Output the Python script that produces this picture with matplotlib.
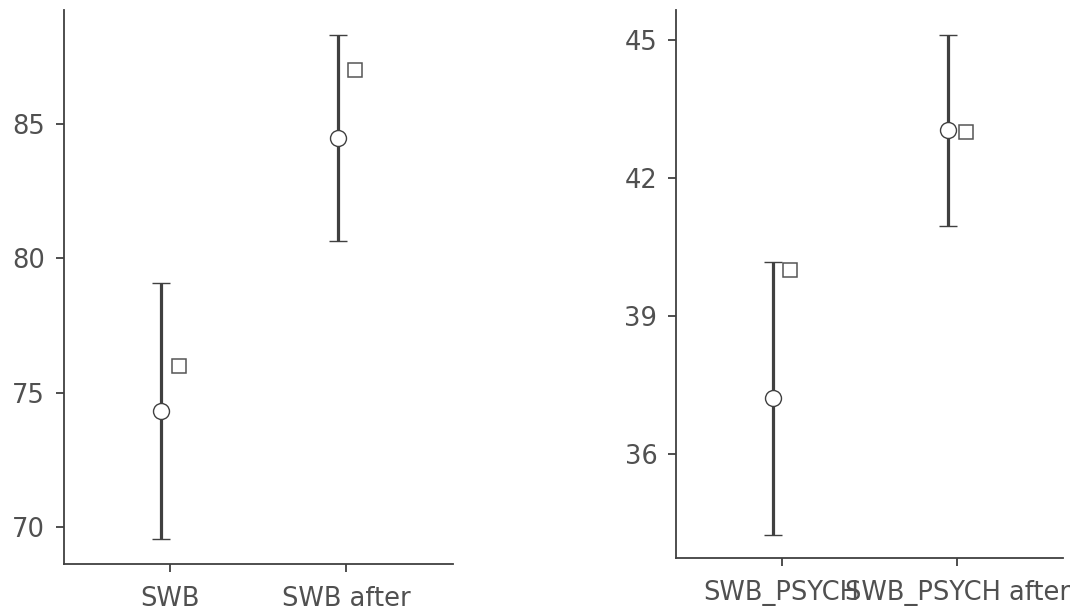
import matplotlib.pyplot as plt
import numpy as np

# SWB scores: means with interval bounds, plus medians
swb_labels = ['SWB', 'SWB after']
swb_mean = [74.3, 84.48]
swb_low = [69.55, 80.63]
swb_high = [79.07, 88.32]
swb_median = [76, 87]

psych_labels = ['SWB_PSYCH', 'SWB_PSYCH after']
psych_mean = [37.22, 43.04]
psych_low = [34.24, 40.96]
psych_high = [40.17, 45.11]
psych_median = [40, 43]

dark = '#404040'
text_col = '#505050'

fig = plt.figure(figsize=(10.8, 6.14), dpi=100)
ax1 = fig.add_axes([0.059, 0.0814, 0.36, 0.9026])
ax2 = fig.add_axes([0.626, 0.0912, 0.358, 0.8928])


def draw(ax, labels, mean, low, high, median, ylim, yticks):
    x = np.arange(len(labels))
    mean = np.array(mean)
    err = [mean - np.array(low), np.array(high) - mean]
    ax.errorbar(x - 0.05, mean, yerr=err, fmt='o', color=dark, ecolor=dark,
                elinewidth=2.3, capsize=6.5, capthick=2.5,
                markersize=11.5, markerfacecolor='white', markeredgecolor=dark,
                markeredgewidth=1.0, zorder=3)
    ax.plot(x + 0.05, median, 's', markersize=10, markerfacecolor='white',
            markeredgecolor='#555555', markeredgewidth=1.1, zorder=3)
    ax.set_xlim(-0.6, 1.6)
    ax.set_ylim(*ylim)
    ax.set_xticks(x)
    ax.set_xticklabels(labels)
    ax.set_yticks(yticks)
    for side in ['top', 'right']:
        ax.spines[side].set_visible(False)
    for side in ['left', 'bottom']:
        ax.spines[side].set_color(dark)
        ax.spines[side].set_linewidth(1.3)
    ax.tick_params(colors=dark, labelcolor=text_col, labelsize=18.5,
                   length=5.5, width=1.3, pad=8)
    ax.tick_params(axis='x', pad=10)


draw(ax1, swb_labels, swb_mean, swb_low, swb_high, swb_median,
     (68.62, 89.25), [70, 75, 80, 85])
draw(ax2, psych_labels, psych_mean, psych_low, psych_high, psych_median,
     (33.74, 45.65), [36, 39, 42, 45])

fig.savefig('out.png', dpi=100)
